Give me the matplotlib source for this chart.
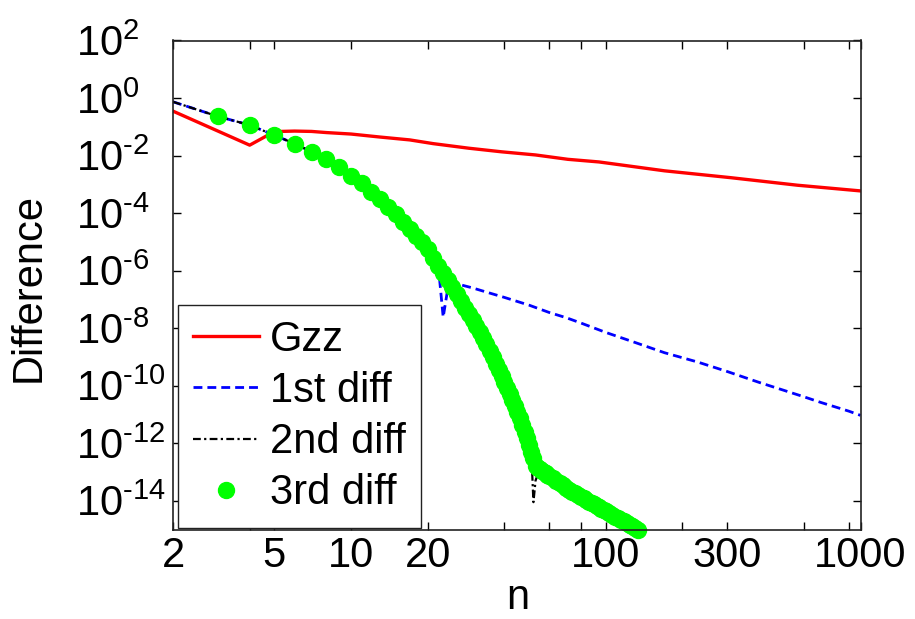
import numpy as np
import matplotlib
matplotlib.use("Agg")
import matplotlib.pyplot as plt

plt.rcParams['font.family'] = ['Liberation Sans', 'DejaVu Sans']
plt.rcParams['mathtext.fontset'] = 'custom'
plt.rcParams['mathtext.rm'] = 'Liberation Sans'
plt.rcParams['mathtext.it'] = 'Liberation Sans:italic'
plt.rcParams['mathtext.bf'] = 'Liberation Sans:bold'
plt.rcParams['mathtext.default'] = 'regular'

# ---------------- data ----------------
# Gzz
n_gzz = [2, 4, 5, 6, 7, 8, 10, 13, 17, 21, 29, 39, 53, 71, 94, 170, 310, 566, 1000]
gzz = [3.5e-1, 2.3e-2, 6.8e-2, 7.1e-2, 6.9e-2, 6.3e-2, 5.6e-2, 4.4e-2, 3.5e-2,
       2.6e-2, 1.8e-2, 1.35e-2, 1.05e-2, 7.4e-3, 6.0e-3, 2.95e-3, 1.7e-3,
       9.3e-4, 5.9e-4]

# common early part of the differences (n = 2 .. 22)
n_common = [2, 3, 4, 5, 6, 7, 8, 9, 10, 11, 12, 13, 14, 15, 16, 17, 18, 19, 20,
            21, 22]
diff_common = [7.4e-1, 2.3e-1, 1.15e-1, 5.1e-2, 2.6e-2, 1.35e-2, 7.4e-3,
               3.9e-3, 2.0e-3, 1.1e-3, 5.6e-4, 3.0e-4, 1.66e-4, 9.1e-5,
               5.0e-5, 2.9e-5, 1.66e-5, 9.5e-6, 5.6e-6, 2.8e-6, 1.5e-6]

# 1st diff after it leaves the common curve
n_first_tail = [23, 24, 25, 27, 30, 35, 40, 50, 60, 70, 80, 100, 130, 170, 230,
                300, 400, 500, 600, 700, 800, 900, 1000]
first_tail = [2.4e-8, 2.5e-7, 3.2e-7, 3.2e-7, 2.5e-7, 1.66e-7, 1.17e-7,
              6.3e-8, 3.5e-8, 2.3e-8, 1.5e-8, 7.1e-9, 3.2e-9, 1.4e-9,
              6.6e-10, 3.1e-10, 1.3e-10, 6.9e-11, 4.1e-11, 2.6e-11,
              1.8e-11, 1.3e-11, 9.3e-12]

# 3rd diff (green dots) from n = 23 on, as log10 of the value
n_third_tail = list(range(23, 61)) + list(range(62, 101, 2)) + \
    [103, 106, 109, 112, 115, 118, 121, 124, 127, 130, 134]
third_tail_log10 = [
    -6.08, -6.32, -6.57, -6.81, -7.06, -7.30, -7.51, -7.72, -7.93, -8.14,
    -8.35, -8.56, -8.78, -9.00, -9.23, -9.46, -9.67, -9.87, -10.08, -10.28,
    -10.49, -10.70, -10.92, -11.14, -11.37, -11.60, -11.83, -12.06, -12.29,
    -12.52, -12.78, -12.86, -12.91, -12.95, -13.00, -13.04, -13.09, -13.13,
    -13.22, -13.30, -13.39, -13.47, -13.54, -13.61, -13.68, -13.74, -13.80,
    -13.86, -13.92, -13.97, -14.03, -14.08, -14.13, -14.18, -14.23, -14.27,
    -14.32, -14.36,
    -14.43, -14.49, -14.55, -14.61, -14.67, -14.72, -14.78, -14.83, -14.88,
    -14.94, -15.00]

# 2nd diff from n = 23 on (dips at n = 52, then just below the 3rd diff)
n_second_tail = [23, 24, 25, 26, 27, 28, 29, 30, 32, 34, 36, 38, 40, 42, 44,
                 46, 48, 50, 51, 52, 53, 54, 56, 60, 66, 72, 78, 84, 90, 96,
                 105, 115, 126, 134]
second_tail_log10 = [
    -6.08, -6.32, -6.57, -6.81, -7.06, -7.30, -7.51, -7.72, -8.14, -8.56,
    -9.00, -9.46, -9.87, -10.28, -10.70, -11.14, -11.60, -12.06, -12.29,
    -14.05, -13.30, -13.10, -13.15, -13.33, -13.59, -13.81, -14.00, -14.17,
    -14.33, -14.47, -14.67, -14.87, -15.07, -15.20]

labels = ["Gzz", "1st diff", "2nd diff", "3rd diff"]
xtick_vals = [2, 5, 10, 20, 100, 300, 1000]
xtick_minor = [4, 40, 60, 80, 200, 600, 900]
ytick_exps = [2, 0, -2, -4, -6, -8, -10, -12, -14]

# ---------------- figure ----------------
fig = plt.figure(figsize=(9.15, 6.19), dpi=100)
W, H = 915.0, 619.0
L, R, T, B = 173.0, 860.5, 40.5, 529.5
ax = fig.add_axes([L / W, 1 - B / H, (R - L) / W, (B - T) / H])

n_first = n_common + n_first_tail
first = diff_common + first_tail
n_second = n_common + n_second_tail
second = diff_common + list(10.0 ** np.array(second_tail_log10))
n_third = n_common[1:] + n_third_tail
third = diff_common[1:] + list(10.0 ** np.array(third_tail_log10))

ax.plot(n_gzz, gzz, color='#ff0000', lw=2.4, label=labels[0])
ax.plot(n_first, first, color='#0000ff', lw=2.0, dashes=(3.2, 1.8),
        label=labels[1])
ax.plot(n_second, second, color='black', lw=1.6, dashes=(3.5, 1.5, 1, 1.5),
        label=labels[2])
ax.plot(n_third, third, linestyle='none', marker='o', markersize=11.5,
        markerfacecolor='#00ff00', markeredgecolor='#00ff00',
        label=labels[3], clip_on=False)

ax.set_xscale('log')
ax.set_yscale('log')
ax.set_xlim(2, 1000)
ax.set_ylim(1e-15, 1e2)

FS = 30
ax.set_xticks(xtick_vals)
ax.set_xticklabels([str(v) for v in xtick_vals])
ax.set_xticks(xtick_minor, minor=True)
ax.set_xticklabels([], minor=True)
ax.set_yticks([10.0 ** e for e in ytick_exps])
ax.set_yticklabels([r'$10^{%s}$' % (str(e) if e >= 0 else r'\text{-}%d' % (-e))
                    for e in ytick_exps])
ax.yaxis.set_minor_locator(matplotlib.ticker.NullLocator())

ax.tick_params(which='both', direction='in', top=True, right=True,
               length=5.5, width=1.0, labelsize=FS)
ax.tick_params(axis='x', pad=5)
ax.tick_params(axis='y', pad=(L - 76) * 72 / 100)
for lbl in ax.get_yticklabels():
    lbl.set_horizontalalignment('left')

for s in ax.spines.values():
    s.set_linewidth(1.2)
    s.set_color('#222222')

ax.set_xlabel('n', fontsize=FS, va='center')
ax.xaxis.set_label_coords((518 - L) / (R - L), (B - 598) / (B - T))
ax.set_ylabel('Difference', fontsize=FS, va='center')
ax.yaxis.set_label_coords((29 - L) / (R - L), (B - 287) / (B - T))

leg = ax.legend(loc='lower left', bbox_to_anchor=(5 / (R - L), 1.5 / (B - T)),
                borderaxespad=0, fontsize=FS, frameon=True, fancybox=False,
                framealpha=1, edgecolor='#222222', handlelength=1.6,
                handletextpad=0.26, labelspacing=0.27, borderpad=0.35,
                numpoints=1)
leg.get_frame().set_linewidth(1.0)

fig.savefig('out.png', dpi=100)
